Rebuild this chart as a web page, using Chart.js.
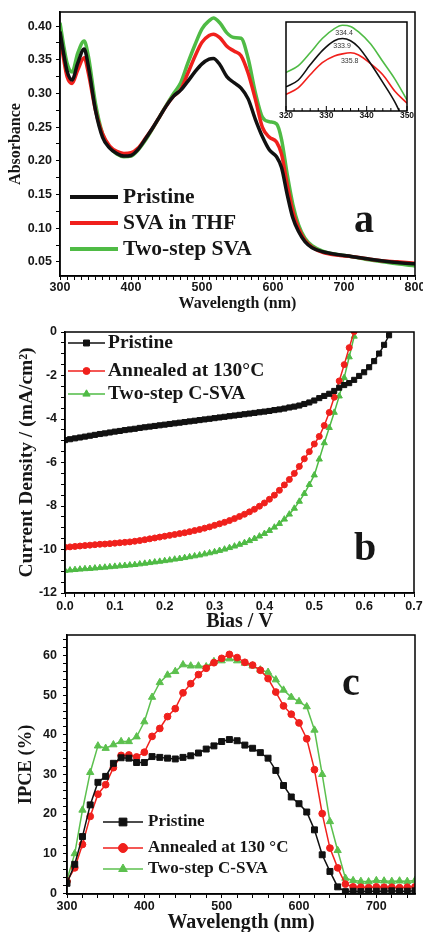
<!DOCTYPE html>
<html>
<head>
<meta charset="utf-8">
<title>Absorbance / J-V / IPCE</title>
<script src="https://cdn.jsdelivr.net/npm/chart.js@4.4.1/dist/chart.umd.min.js"></script>
<style>
  html, body { margin: 0; padding: 0; background: #fff; }
  #page { position: relative; width: 423px; height: 932px; overflow: hidden; background: #fff; }
  #page canvas { position: absolute; }
</style>
</head>
<body>
<div id="page">
  <canvas id="absorb" width="423" height="313" style="left:0px;top:0px"></canvas>
  <canvas id="inset" width="140" height="112" style="left:276px;top:16px"></canvas>
  <canvas id="jv" width="423" height="322" style="left:0px;top:312px"></canvas>
  <canvas id="ipce" width="423" height="306" style="left:0px;top:626px"></canvas>
</div>
<script>
// ---------- DATA ----------
// (a) absorbance spectra
const absWl = [300,305,310,317,325,334,340,350,360,370,380,390,400,410,420,430,440,450,460,470,
  480,490,500,510,516,525,535,545,555,565,575,585,595,605,612,620,628,636,645,655,670,690,710,730,750,775,800];
const absPristine = [0.392,0.360,0.333,0.320,0.345,0.366,0.340,0.275,0.235,0.219,0.211,0.207,0.208,0.217,0.232,0.248,0.265,0.282,0.296,0.305,
  0.318,0.332,0.344,0.351,0.352,0.343,0.325,0.316,0.308,0.292,0.262,0.236,0.216,0.206,0.190,0.150,0.115,0.095,0.080,0.071,0.065,0.061,0.058,0.055,0.052,0.049,0.047];
const absSvaThf = [0.385,0.352,0.325,0.315,0.335,0.353,0.330,0.275,0.240,0.222,0.214,0.211,0.212,0.219,0.233,0.248,0.265,0.282,0.296,0.306,
  0.330,0.355,0.376,0.386,0.388,0.383,0.370,0.363,0.356,0.330,0.292,0.250,0.235,0.228,0.210,0.165,0.125,0.100,0.082,0.072,0.064,0.060,0.058,0.055,0.052,0.050,0.048];
const absTwoStep = [0.405,0.372,0.345,0.332,0.360,0.378,0.355,0.285,0.240,0.220,0.210,0.206,0.207,0.216,0.230,0.247,0.265,0.283,0.300,0.316,
  0.345,0.372,0.396,0.408,0.412,0.405,0.390,0.383,0.382,0.352,0.302,0.265,0.258,0.255,0.232,0.180,0.135,0.105,0.085,0.074,0.066,0.061,0.058,0.054,0.051,0.047,0.044];
const absXTicks = [300, 400, 500, 600, 700, 800];
const absYTicks = [0.05, 0.10, 0.15, 0.20, 0.25, 0.30, 0.35, 0.40];

// inset, peak around 335 nm
const insWl = [320, 323, 326, 329, 332, 334, 336, 338, 341, 344, 347, 350];
const insPristine = [0.322, 0.328, 0.342, 0.355, 0.364, 0.366, 0.364, 0.358, 0.343, 0.326, 0.308, 0.285];
const insSvaThf = [0.315, 0.321, 0.333, 0.344, 0.350, 0.352, 0.353, 0.351, 0.343, 0.333, 0.318, 0.307];
const insTwoStep = [0.335, 0.341, 0.353, 0.366, 0.375, 0.378, 0.377, 0.372, 0.361, 0.345, 0.329, 0.310];
const insPeakAt = [333.9, 335.8, 334.4];
const insPeakText = ['333.9', '335.8', '334.4'];
const insXTicks = [320, 330, 340, 350];

// (b) J-V curves
const bias = [0.00,0.01,0.02,0.03,0.04,0.05,0.06,0.07,0.08,0.09,
  0.10,0.11,0.12,0.13,0.14,0.15,0.16,0.17,0.18,0.19,
  0.20,0.21,0.22,0.23,0.24,0.25,0.26,0.27,0.28,0.29,
  0.30,0.31,0.32,0.33,0.34,0.35,0.36,0.37,0.38,0.39,
  0.40,0.41,0.42,0.43,0.44,0.45,0.46,0.47,0.48,0.49,
  0.50,0.51,0.52,0.53,0.54,0.55,0.56,0.57,0.58,0.59,
  0.60,0.61,0.62,0.63,0.64,0.65];
const jvPristine = [-4.97,-4.93,-4.89,-4.85,-4.81,-4.77,-4.73,-4.69,-4.66,-4.62,
  -4.58,-4.55,-4.51,-4.48,-4.45,-4.41,-4.38,-4.35,-4.32,-4.29,
  -4.26,-4.23,-4.20,-4.17,-4.14,-4.11,-4.08,-4.05,-4.02,-3.99,
  -3.96,-3.93,-3.90,-3.87,-3.84,-3.81,-3.78,-3.75,-3.72,-3.69,
  -3.66,-3.63,-3.59,-3.56,-3.52,-3.47,-3.43,-3.38,-3.31,-3.24,
  -3.15,-3.04,-2.94,-2.84,-2.71,-2.56,-2.44,-2.35,-2.20,-2.02,
  -1.85,-1.62,-1.34,-0.99,-0.59,-0.15];
const jvAnnealed = [-9.90,-9.88,-9.86,-9.84,-9.82,-9.80,-9.78,-9.76,-9.75,-9.73,
  -9.71,-9.69,-9.67,-9.65,-9.62,-9.59,-9.55,-9.51,-9.47,-9.43,
  -9.39,-9.35,-9.31,-9.27,-9.23,-9.18,-9.13,-9.08,-9.02,-8.96,
  -8.89,-8.82,-8.75,-8.67,-8.58,-8.48,-8.38,-8.27,-8.15,-8.01,
  -7.86,-7.69,-7.50,-7.28,-7.03,-6.78,-6.50,-6.18,-5.83,-5.50,
  -5.15,-4.80,-4.30,-3.70,-3.00,-2.25,-1.50,-0.72,0.02];
const jvTwoStep = [-10.97,-10.95,-10.93,-10.91,-10.89,-10.88,-10.86,-10.84,-10.82,-10.80,
  -10.78,-10.76,-10.74,-10.72,-10.70,-10.67,-10.64,-10.61,-10.58,-10.55,
  -10.52,-10.49,-10.45,-10.42,-10.38,-10.34,-10.30,-10.26,-10.21,-10.16,
  -10.11,-10.05,-9.99,-9.92,-9.85,-9.77,-9.69,-9.60,-9.50,-9.39,
  -9.27,-9.13,-8.98,-8.81,-8.61,-8.38,-8.11,-7.79,-7.43,-7.02,
  -6.58,-5.85,-5.10,-4.40,-3.70,-2.95,-2.10,-1.15,-0.20];
const jvXTicks = [0, 0.1, 0.2, 0.3, 0.4, 0.5, 0.6, 0.7];
const jvYTicks = [0, -2, -4, -6, -8, -10, -12];

// (c) IPCE
const ipceWl = [300,310,320,330,340,350,360,370,380,390,400,410,420,430,440,450,460,470,480,490,
  500,510,520,530,540,550,560,570,580,590,600,610,620,630,640,650,660,670,680,690,700,710,720,730,740,750];
const ipcePristine = [2.5,7.3,14.3,22.3,28.0,29.5,32.8,34.2,34.1,33.0,33.0,34.5,34.3,34.1,33.9,34.3,34.7,35.4,36.4,37.2,
  38.3,38.8,38.5,37.4,36.6,35.5,34.1,31.0,27.2,24.3,22.6,20.5,16.0,9.7,5.5,1.6,0.4,0.5,0.4,0.5,0.5,0.5,0.6,0.5,0.5,0.6];
const ipceAnnealed = [3.0,6.4,12.3,19.4,25.0,27.4,31.7,34.8,34.9,34.4,35.6,39.6,41.6,44.6,46.6,50.6,52.9,55.2,56.8,58.2,
  59.3,60.3,59.5,58.3,57.6,56.3,54.2,50.8,47.3,45.2,43.0,39.0,31.2,20.1,11.4,6.4,2.3,1.6,1.5,1.4,1.6,1.5,1.5,1.4,1.5,1.6];
const ipceTwoStep = [3.4,10.0,21.0,30.5,37.2,36.6,37.5,38.3,38.3,39.5,43.3,49.5,53.2,55.1,56.0,57.7,57.4,57.4,57.2,58.5,
  58.7,59.2,58.7,58.1,57.4,56.4,55.8,53.9,51.3,49.5,48.4,47.1,41.2,30.0,18.1,10.8,3.8,3.2,3.0,2.9,3.2,3.1,3.0,3.1,3.0,3.2];
const ipceXTicks = [300, 400, 500, 600, 700];
const ipceYTicks = [0, 10, 20, 30, 40, 50, 60];

// ---------- STYLE ----------
const SERIF = "'Liberation Serif', 'Times New Roman', serif";
const SANS = "'Liberation Sans', Arial, sans-serif";
const INK = '#161616';
const BLACK = '#111111', RED = '#f0201c', GREEN = '#4fbb45', GREEN_C = '#5cc04e';

function pts(xs, ys) { return ys.map((y, i) => ({x: xs[i], y: y})); }
function run(lo, hi, step) {
  const out = [];
  for (let k = Math.ceil(lo / step - 1e-9); k * step <= hi + 1e-9; k++) out.push(+(k * step).toFixed(6));
  return out;
}
function has(list, v) { return list.some(t => Math.abs(t - v) < 1e-9); }
function serif(size, lh) { return {family: SERIF, size: size, weight: 'bold', lineHeight: lh || 1.2}; }

function axis(o) {
  const horiz = o.pos === 'bottom';
  return {
    type: 'linear', position: o.pos, min: o.min, max: o.max,
    afterBuildTicks: s => { s.ticks = run(o.min, o.max, o.minor).map(v => ({value: v})); },
    afterFit: s => {
      if (horiz) s.height = o.size; else s.width = o.size;
      s.paddingLeft = 0; s.paddingRight = 0; s.paddingTop = 0; s.paddingBottom = 0;
    },
    ticks: {
      autoSkip: false, maxRotation: 0, minRotation: 0, padding: o.tickPad, color: INK,
      font: {family: SANS, size: 12.5, weight: 'bold', lineHeight: 1.2},
      callback: v => has(o.major, v) ? o.fmt(v) : ''
    },
    grid: { drawOnChartArea: false, drawTicks: true, tickLength: 4, tickColor: '#000', tickWidth: 1, color: '#000' },
    border: { display: true, color: '#000', width: 1.5 },
    title: { display: true, text: o.title, color: INK, font: o.titleFont, padding: o.titlePad }
  };
}

function series(label, data, color, width, style, r) {
  return {
    label: label, data: data, borderColor: color, backgroundColor: color, borderWidth: width,
    pointStyle: style || 'circle', pointRadius: r || 0, pointBorderWidth: 1,
    pointBackgroundColor: color, pointBorderColor: color, fill: false, tension: 0
  };
}

function base(padding, scales) {
  return {
    responsive: false, animation: false, devicePixelRatio: 1,
    layout: {padding: padding},
    plugins: {legend: {display: false}, tooltip: {enabled: false}},
    scales: scales
  };
}

// box round the plot area
const frame = {
  id: 'frame',
  afterDatasetsDraw(chart) {
    const {ctx, chartArea: a} = chart;
    ctx.save();
    ctx.strokeStyle = '#000'; ctx.lineWidth = 1.5;
    ctx.strokeRect(a.left, a.top, a.right - a.left, a.bottom - a.top);
    ctx.restore();
  }
};

// legend drawn inside the plot
function key(cfg) {
  return {
    id: 'key',
    afterDraw(chart) {
      const ctx = chart.ctx;
      ctx.save();
      chart.data.datasets.forEach((ds, i) => {
        const y = cfg.ys[i];
        ctx.strokeStyle = ds.borderColor; ctx.lineWidth = cfg.lineWidth;
        ctx.beginPath(); ctx.moveTo(cfg.x, y); ctx.lineTo(cfg.x + cfg.len, y); ctx.stroke();
        if (cfg.marks) {
          ctx.fillStyle = ds.borderColor; ctx.lineWidth = 1;
          Chart.helpers.drawPoint(ctx, {pointStyle: ds.pointStyle, radius: cfg.marks[i], rotation: 0, borderWidth: 1},
            cfg.x + cfg.len / 2, y);
        }
        ctx.fillStyle = INK; ctx.font = cfg.font; ctx.textAlign = 'left'; ctx.textBaseline = 'middle';
        ctx.fillText(ds.label, cfg.x + cfg.len + cfg.gap, y + (cfg.dy || 0));
      });
      ctx.restore();
    }
  };
}

// panel letter
function tag(text, x, y) {
  return {
    id: 'tag',
    afterDraw(chart) {
      const ctx = chart.ctx;
      ctx.save();
      ctx.fillStyle = INK; ctx.font = 'bold 40px ' + SERIF; ctx.textAlign = 'center'; ctx.textBaseline = 'alphabetic';
      ctx.fillText(text, x, y);
      ctx.restore();
    }
  };
}

// ---------- (a) ABSORBANCE ----------
const absSets = [
  series('Pristine', pts(absWl, absPristine), BLACK, 3.5),
  series('SVA in THF', pts(absWl, absSvaThf), RED, 3.5),
  series('Two-step SVA', pts(absWl, absTwoStep), GREEN, 3.5)
];
absSets.forEach(d => { d.cubicInterpolationMode = 'monotone'; });

new Chart(document.getElementById('absorb'), {
  type: 'line',
  data: {datasets: absSets},
  options: base({left: 0, top: 12, right: 8, bottom: 0}, {
    x: axis({pos: 'bottom', min: 300, max: 800, minor: 10, major: absXTicks, fmt: v => String(v),
      size: 37, tickPad: 0, title: 'Wavelength (nm)', titleFont: serif(16), titlePad: {top: 0, bottom: 0}}),
    y: axis({pos: 'left', min: 0.029, max: 0.421, minor: 0.025, major: absYTicks, fmt: v => v.toFixed(2),
      size: 60, tickPad: 4, title: 'Absorbance', titleFont: serif(16), titlePad: {top: 6, bottom: 0}})
  }),
  plugins: [frame,
    key({x: 70, len: 48, gap: 5, ys: [197, 223, 249], lineWidth: 4, font: 'bold 21.5px ' + SERIF}),
    tag('a', 364, 232)]
});

// inset
const insetFace = {
  id: 'insetFace',
  beforeDraw(chart) {
    const {ctx, chartArea: a} = chart;
    ctx.save(); ctx.fillStyle = '#fff';
    ctx.fillRect(a.left, a.top, a.right - a.left, a.bottom - a.top);
    ctx.restore();
  },
  afterDatasetsDraw(chart) {
    const {ctx, chartArea: a, scales: {x}} = chart;
    ctx.save(); ctx.strokeStyle = '#000'; ctx.lineWidth = 1;
    x.ticks.forEach(t => {
      const px = x.getPixelForValue(t.value);
      const len = has(insXTicks, t.value) ? 5 : 3;
      ctx.beginPath(); ctx.moveTo(px, a.bottom); ctx.lineTo(px, a.bottom - len); ctx.stroke();
    });
    ctx.restore();
  }
};
const peakTags = {
  id: 'peakTags',
  afterDatasetsDraw(chart) {
    const {ctx, scales: {x, y}} = chart;
    ctx.save();
    ctx.font = '7px ' + SANS; ctx.fillStyle = '#333'; ctx.textAlign = 'center'; ctx.textBaseline = 'middle';
    chart.data.datasets.forEach((ds, i) => {
      const top = Math.max(...ds.data.map(p => p.y));
      ctx.fillText(insPeakText[i], x.getPixelForValue(insPeakAt[i]), y.getPixelForValue(top) + 8);
    });
    ctx.restore();
  }
};
const insSets = [
  series('Pristine', pts(insWl, insPristine), BLACK, 1.6),
  series('SVA in THF', pts(insWl, insSvaThf), RED, 1.6),
  series('Two-step SVA', pts(insWl, insTwoStep), GREEN, 1.6)
];
insSets.forEach(d => { d.cubicInterpolationMode = 'monotone'; });

new Chart(document.getElementById('inset'), {
  type: 'line',
  data: {datasets: insSets},
  options: {
    responsive: false, animation: false, devicePixelRatio: 1,
    layout: {padding: {left: 10, top: 6, right: 9, bottom: 0}},
    plugins: {legend: {display: false}, tooltip: {enabled: false}},
    scales: {
      x: {
        type: 'linear', min: 320, max: 350,
        afterBuildTicks: s => { s.ticks = run(320, 350, 2).map(v => ({value: v})); },
        afterFit: s => { s.height = 17; s.paddingLeft = 0; s.paddingRight = 0; },
        ticks: {autoSkip: false, maxRotation: 0, padding: 0, color: INK,
          font: {family: SANS, size: 8.5, weight: 'bold', lineHeight: 1.2},
          callback: v => has(insXTicks, v) ? String(v) : ''},
        grid: {display: false, drawTicks: false},
        border: {display: false}
      },
      y: {type: 'linear', display: false, min: 0.300, max: 0.381}
    }
  },
  plugins: [insetFace, frame, peakTags]
});

// ---------- (b) J-V ----------
new Chart(document.getElementById('jv'), {
  type: 'line',
  data: {datasets: [
    series('Pristine', pts(bias, jvPristine), BLACK, 1.5, 'rect', 3.6),
    series('Annealed at 130\u00B0C', pts(bias, jvAnnealed), RED, 1.5, 'circle', 3),
    series('Two-step C-SVA', pts(bias, jvTwoStep), GREEN, 1.5, 'triangle', 3.6)
  ]},
  options: base({left: 0, top: 20, right: 9, bottom: 0}, {
    x: axis({pos: 'bottom', min: 0, max: 0.7, minor: 0.02, major: jvXTicks, fmt: v => v.toFixed(1),
      size: 41, tickPad: 2, title: 'Bias / V', titleFont: serif(20), titlePad: {top: 0, bottom: 0}}),
    y: axis({pos: 'left', min: -12, max: 0, minor: 0.5, major: jvYTicks, fmt: v => String(v),
      size: 65, tickPad: 4, title: 'Current Density / (mA/cm\u00B2)', titleFont: serif(19.5), titlePad: {top: 15, bottom: 0}})
  }),
  plugins: [frame,
    key({x: 68, len: 37, gap: 3, ys: [31, 59, 82], lineWidth: 1.5, marks: [4.2, 3.5, 4.2], font: 'bold 19.5px ' + SERIF}),
    tag('b', 365, 248)]
});

// ---------- (c) IPCE ----------
new Chart(document.getElementById('ipce'), {
  type: 'line',
  data: {datasets: [
    series('Pristine', pts(ipceWl, ipcePristine), BLACK, 1.5, 'rect', 4.2),
    series('Annealed at 130 \u00B0C', pts(ipceWl, ipceAnnealed), RED, 1.5, 'circle', 3.4),
    series('Two-step C-SVA', pts(ipceWl, ipceTwoStep), GREEN_C, 1.5, 'triangle', 4.2)
  ]},
  options: base({left: 0, top: 9, right: 8, bottom: 0}, {
    x: axis({pos: 'bottom', min: 300, max: 750, minor: 20, major: ipceXTicks, fmt: v => String(v),
      size: 38, tickPad: 1, title: 'Wavelength (nm)', titleFont: serif(20, 0.9), titlePad: {top: 0, bottom: 0}}),
    y: axis({pos: 'left', min: -0.2, max: 65.2, minor: 2, major: ipceYTicks, fmt: v => String(v),
      size: 67, tickPad: 6, title: 'IPCE (%)', titleFont: serif(18.5), titlePad: {top: 15, bottom: 0}})
  }),
  plugins: [frame,
    key({x: 103, len: 40, gap: 5, ys: [196, 222, 243], lineWidth: 1.5, marks: [5.5, 4.5, 5], font: 'bold 17px ' + SERIF}),
    tag('c', 351, 69)]
});
</script>
</body>
</html>
